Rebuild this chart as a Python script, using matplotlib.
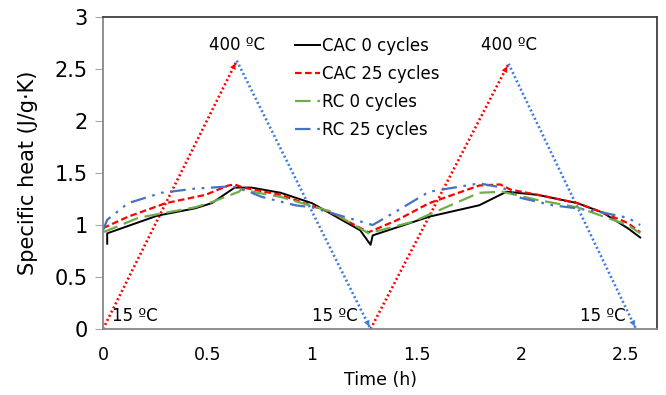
import numpy as np
import matplotlib
matplotlib.use('Agg')
import matplotlib.pyplot as plt

# specific heat curves
t_cac0 = [0.02, 0.02, 0.26, 0.44, 0.52, 0.63, 0.71, 0.85, 1.00, 1.23, 1.28, 1.29, 1.56, 1.80, 1.93, 2.08, 2.27, 2.39, 2.51, 2.57]
cp_cac0 = [0.82, 0.92, 1.09, 1.16, 1.21, 1.36, 1.36, 1.31, 1.21, 0.95, 0.81, 0.90, 1.08, 1.19, 1.32, 1.29, 1.21, 1.12, 0.97, 0.88]

t_cac25 = [0.00, 0.12, 0.30, 0.49, 0.60, 0.63, 0.67, 0.85, 1.09, 1.27, 1.41, 1.56, 1.80, 1.90, 1.95, 2.08, 2.27, 2.39, 2.51, 2.57]
cp_cac25 = [0.97, 1.08, 1.21, 1.29, 1.38, 1.39, 1.36, 1.29, 1.12, 0.93, 1.05, 1.21, 1.38, 1.39, 1.34, 1.29, 1.21, 1.12, 1.02, 0.93]

t_rc0 = [0.00, 0.17, 0.44, 0.52, 0.65, 0.66, 0.85, 1.09, 1.27, 1.48, 1.80, 1.91, 2.08, 2.27, 2.51, 2.57]
cp_rc0 = [0.93, 1.07, 1.17, 1.22, 1.32, 1.34, 1.27, 1.13, 0.92, 1.03, 1.31, 1.32, 1.24, 1.17, 1.00, 0.92]

t_rc25 = [0.00, 0.02, 0.12, 0.28, 0.44, 0.60, 0.65, 0.76, 0.92, 1.00, 1.17, 1.29, 1.41, 1.56, 1.80, 1.91, 2.00, 2.15, 2.27, 2.39, 2.51, 2.57]
cp_rc25 = [0.95, 1.05, 1.21, 1.31, 1.35, 1.37, 1.36, 1.27, 1.19, 1.17, 1.07, 1.00, 1.14, 1.32, 1.40, 1.36, 1.26, 1.19, 1.16, 1.12, 1.07, 1.00]

# temperature ramp arrows (15 -> 400 -> 15 ...)
ramp_t = [0.00, 0.64, 1.28, 1.94, 2.55]
ramp_y = [0.00, 2.58, 0.00, 2.55, 0.00]

red = '#FF0000'
blue_dot = '#3B7DDD'

fig = plt.figure(figsize=(6.66, 3.95), dpi=100)
ax = fig.add_axes([0.1547, 0.167, 0.832, 0.79])

# ramps: up = red, down = blue
for i in range(len(ramp_t) - 1):
    c = red if ramp_y[i + 1] > ramp_y[i] else blue_dot
    ax.plot(ramp_t[i:i + 2], ramp_y[i:i + 2], ls=(0, (0.75, 1.0)), color=c, lw=1.9,
            dash_capstyle='butt')
    x0 = ramp_t[i] + 0.97 * (ramp_t[i + 1] - ramp_t[i])
    y0 = ramp_y[i] + 0.97 * (ramp_y[i + 1] - ramp_y[i])
    ax.annotate('', xy=(ramp_t[i + 1], ramp_y[i + 1]), xytext=(x0, y0),
                arrowprops=dict(arrowstyle='-|>', color=c, lw=0, mutation_scale=11))

ax.plot(t_cac0, cp_cac0, color='black', lw=1.4, label='CAC 0 cycles')
ax.plot(t_cac25, cp_cac25, color=red, lw=1.6, ls=(0, (3, 1.5)), label='CAC 25 cycles')
ax.plot(t_rc0, cp_rc0, color='#70AD47', lw=1.6, ls=(0, (7, 3)), label='RC 0 cycles')
ax.plot(t_rc25, cp_rc25, color='#4472C4', lw=1.6, ls=(0, (7, 3, 1.2, 3, 1.2, 3)), label='RC 25 cycles')

ax.text(0.64, 2.73, '400 ºC', ha='center', va='center', fontsize=12)
ax.text(1.94, 2.73, '400 ºC', ha='center', va='center', fontsize=12)
ax.text(0.045, 0.125, '15 ºC', ha='left', va='center', fontsize=12)
ax.text(1.22, 0.125, '15 ºC', ha='right', va='center', fontsize=12)
ax.text(2.50, 0.125, '15 ºC', ha='right', va='center', fontsize=12)

ax.set_xlim(0, 2.651)
ax.set_ylim(0, 3)
ax.set_xticks([0, 0.5, 1, 1.5, 2, 2.5])
ax.set_xticklabels(['0', '0.5', '1', '1.5', '2', '2.5'])
ax.set_yticks([0, 0.5, 1, 1.5, 2, 2.5, 3])
ax.set_yticklabels(['0', '0.5', '1', '1.5', '2', '2.5', '3'])
ax.tick_params(axis='y', length=6, color='#A6A6A6', labelsize=15, pad=5)
ax.tick_params(axis='x', length=0, labelsize=12.5, pad=12)
for s in ax.spines.values():
    s.set_color('#404040')
    s.set_linewidth(1.3)
ax.spines['left'].set_color('#868686')
ax.spines['bottom'].set_color('#868686')

ax.set_xlabel('Time (h)', fontsize=12.5, labelpad=5)
ax.set_ylabel('Specific heat (J/g·K)', fontsize=15, labelpad=12)

ax.legend(loc='upper left', bbox_to_anchor=(0.331, 0.962), frameon=False, fontsize=12,
          handlelength=1.5, handletextpad=0.15, labelspacing=0.6, borderpad=0)

fig.savefig('out.png', dpi=100)
